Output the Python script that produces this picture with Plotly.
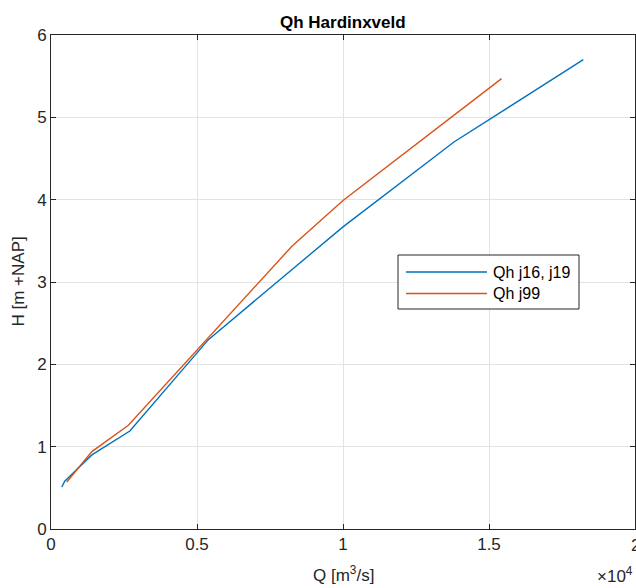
import plotly.graph_objects as go

# Data
q_j16 = [370, 470, 1400, 2700, 5390, 8000, 10000, 13800, 18230]
h_j16 = [0.51, 0.58, 0.90, 1.19, 2.30, 3.07, 3.67, 4.70, 5.70]
q_j99 = [540, 1400, 2650, 8240, 10000, 15430]
h_j99 = [0.57, 0.94, 1.26, 3.43, 3.99, 5.47]

series_names = ["Qh j16, j19", "Qh j99"]
series_colors = ["#0072BD", "#D95319"]

x_tickvals = [0, 5000, 10000, 15000, 20000]
x_ticktext = ["0", "0.5", "1", "1.5", "2"]
y_tickvals = [0, 1, 2, 3, 4, 5, 6]

FONT = "Liberation Sans, Arial, sans-serif"
DARK = "#262626"

W, H = 636, 588
ML, MR, MT, MB = 51, 1, 35, 59
PW, PH = W - ML - MR, H - MT - MB


def px2paper(px, py):
    return (px - ML) / PW, (H - MB - py) / PH


fig = go.Figure()
for q, h, name, col in [(q_j16, h_j16, series_names[0], series_colors[0]),
                        (q_j99, h_j99, series_names[1], series_colors[1])]:
    fig.add_trace(go.Scatter(x=q, y=h, mode="lines", name=name,
                             line=dict(color=col, width=1.4), showlegend=False))

axis_common = dict(showline=True, linecolor=DARK, linewidth=1, mirror="ticks",
                   ticks="inside", ticklen=5, tickcolor=DARK,
                   showgrid=True, gridcolor="#e3e3e3", gridwidth=1,
                   zeroline=False, tickfont=dict(family=FONT, size=17, color=DARK))

fig.update_xaxes(range=[0, 20000], tickvals=x_tickvals[:-1], ticktext=x_ticktext[:-1], **axis_common)
fig.update_yaxes(range=[0, 6], tickvals=y_tickvals, **axis_common)

# Manual legend (MATLAB style, long line samples)
shapes = []
annotations = []
bx0, by0 = px2paper(398, 309)
bx1, by1 = px2paper(579, 255)
shapes.append(dict(type="rect", xref="paper", yref="paper", x0=bx0, y0=by0, x1=bx1, y1=by1,
                   line=dict(color=DARK, width=1), fillcolor="white", layer="above"))
for i, (name, col) in enumerate(zip(series_names, series_colors)):
    ly = 272 + i * 21.5
    lx0, lyp = px2paper(406, ly)
    lx1, _ = px2paper(487, ly)
    shapes.append(dict(type="line", xref="paper", yref="paper", x0=lx0, y0=lyp, x1=lx1, y1=lyp,
                       line=dict(color=col, width=1.4), layer="above"))
    tx, _ = px2paper(491, ly)
    annotations.append(dict(text=name, x=tx, y=lyp, xref="paper", yref="paper",
                            xanchor="left", yanchor="middle", showarrow=False,
                            font=dict(family=FONT, size=16, color="black")))

# Last x tick label (partially cut off at the window edge, as in the reference)
annotations.append(dict(text=x_ticktext[-1], x=x_tickvals[-1], y=0, xref="x", yref="paper",
                        xanchor="center", yanchor="top", yshift=-5, showarrow=False,
                        font=dict(family=FONT, size=17, color=DARK)))

annotations += [
    dict(text="<b>Qh Hardinxveld</b>", x=0.5, y=1, xref="paper", yref="paper",
         xanchor="center", yanchor="bottom", yshift=1, showarrow=False,
         font=dict(family=FONT, size=17, color="black")),
    dict(text="Q [m<sup>3</sup>/s]", x=0.5, y=0, xref="paper", yref="paper",
         xanchor="center", yanchor="top", yshift=-32, showarrow=False,
         font=dict(family=FONT, size=17, color=DARK)),
    dict(text="H [m +NAP]", x=0, y=0.5, xref="paper", yref="paper",
         xanchor="right", yanchor="middle", xshift=-22, textangle=-90, showarrow=False,
         font=dict(family=FONT, size=17, color=DARK)),
    dict(text="\u00d710<sup>4</sup>", x=1, y=0, xref="paper", yref="paper",
         xanchor="right", yanchor="top", yshift=-33, xshift=0, showarrow=False,
         font=dict(family=FONT, size=17, color=DARK)),
]

fig.update_layout(
    width=W, height=H,
    margin=dict(l=ML, r=MR, t=MT, b=MB),
    paper_bgcolor="white", plot_bgcolor="white",
    font=dict(family=FONT, color=DARK),
    showlegend=False,
    shapes=shapes,
    annotations=annotations,
)

fig.write_html("out.html")
